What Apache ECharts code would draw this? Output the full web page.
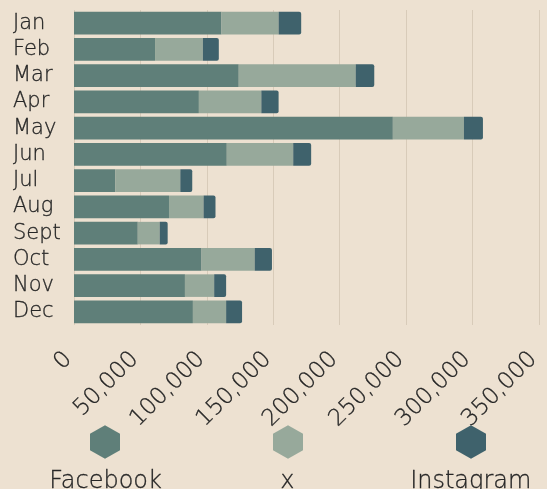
<!DOCTYPE html>
<html>
<head>
<meta charset="utf-8">
<script src="https://cdn.jsdelivr.net/npm/echarts@6/dist/echarts.min.js"></script>
<style>
html,body{margin:0;padding:0;background:#ede1d1;}
#c{width:547px;height:489px;}
</style>
</head>
<body>
<div id="c"></div>
<script>
const months = ['Jan','Feb','Mar','Apr','May','Jun','Jul','Aug','Sept','Oct','Nov','Dec'];
const facebook = [111000, 61000, 124000, 94000, 240000, 115000, 31000, 71500, 48000, 96000, 83500, 89500];
const xData = [43000, 36000, 88000, 47000, 53500, 50000, 49000, 26000, 16500, 40000, 22000, 25000];
const instagram = [17000, 12000, 14000, 13000, 14300, 13500, 9000, 9000, 6000, 13000, 9000, 12000];
const seriesNames = ['Facebook','x','Instagram'];
const colors = ['#5f7f79','#97a99b','#3f626c'];

const hex = 'path://M50,2 L93,26 L93,74 L50,98 L7,74 L7,26 Z';
const font = 'DejaVu Sans';
const textColor = '#262626';
const weight = 300;
const stroke = {textBorderColor: textColor, textBorderWidth: 0.3};

const chart = echarts.init(document.getElementById('c'), null, {renderer:'canvas'});

const textLegend = (name, left) => ({
  data: [name],
  icon: 'none',
  itemWidth: 0,
  itemHeight: 0,
  left: left,
  top: 465,
  selectedMode: false,
  textStyle: Object.assign({fontFamily: font, fontSize: 24, fontWeight: weight, color: textColor, padding: [0,0,0,-5]}, stroke)
});

chart.setOption({
  backgroundColor: '#ede1d1',
  animation: false,
  color: colors,
  grid: {left: 74, right: 8, top: 10, bottom: 164},
  legend: [
    {
      data: seriesNames,
      icon: hex,
      itemWidth: 30,
      itemHeight: 34,
      itemGap: 153,
      left: 85,
      top: 420,
      formatter: () => '',
      selectedMode: false,
      textStyle: {padding: 0}
    },
    textLegend('Facebook', 44),
    textLegend('x', 275),
    textLegend('Instagram', 405)
  ],
  xAxis: {
    type: 'value',
    min: 0,
    max: 350000,
    interval: 50000,
    axisLine: {show: false},
    axisTick: {show: false},
    splitLine: {show: true, lineStyle: {color: '#d8cbb9', width: 1}},
    axisLabel: Object.assign({
      rotate: 45,
      margin: 25,
      padding: [0, 8, 0, 0],
      fontFamily: font,
      fontSize: 23,
      fontWeight: weight,
      color: textColor,
      formatter: v => v.toLocaleString('en-US')
    }, stroke)
  },
  yAxis: {
    type: 'category',
    data: months,
    inverse: true,
    axisLine: {show: false},
    axisTick: {show: false},
    axisLabel: Object.assign({
      interval: 0,
      fontFamily: font,
      fontSize: 21,
      fontWeight: weight,
      color: textColor,
      align: 'left',
      margin: 61
    }, stroke)
  },
  series: [
    {name: 'Facebook', type: 'bar', stack: 's', data: facebook, barCategoryGap: '14%', itemStyle: {color: colors[0]}},
    {name: 'x', type: 'bar', stack: 's', data: xData, itemStyle: {color: colors[1]}},
    {name: 'Instagram', type: 'bar', stack: 's', data: instagram, itemStyle: {color: colors[2], borderRadius: [0,2,2,0]}}
  ]
});
</script>
</body>
</html>
